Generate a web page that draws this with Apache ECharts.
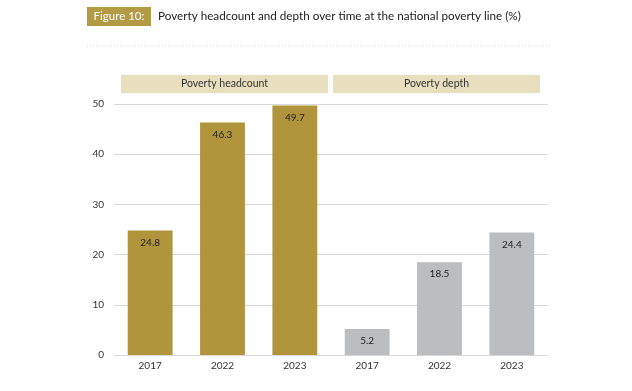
<!DOCTYPE html>
<html>
<head>
<meta charset="utf-8">
<script src="https://cdn.jsdelivr.net/npm/echarts@6/dist/echarts.min.js"></script>
<style>html,body{margin:0;padding:0;background:#fff}#c{width:632px;height:391px}</style>
</head>
<body>
<div id="c"></div>
<script>
var categories = ['2017', '2022', '2023', '2017 ', '2022 ', '2023 '];
var headcount = [24.8, 46.3, 49.7];
var depth = [5.2, 18.5, 24.4];
var groupLabels = ['Poverty headcount', 'Poverty depth'];
var yTicks = [0, 10, 20, 30, 40, 50];
var titleTag = 'Figure 10:';
var titleText = 'Poverty headcount and depth over time at the national poverty line (%)';

var gold = '#b0953d', grey = '#bcbdbf';
var values = headcount.concat(depth);
var data = values.map(function (v, i) {
  return { value: v, itemStyle: { color: i < headcount.length ? gold : grey } };
});
var FONT = 'Lato, "Open Sans", sans-serif';
var chart = echarts.init(document.getElementById('c'));
chart.setOption({
  animation: false,
  grid: { left: 114, right: 84, top: 104, bottom: 36 },
  xAxis: {
    type: 'category', data: categories,
    axisLine: { show: false }, axisTick: { show: false },
    axisLabel: { color: '#333', fontSize: 10, fontFamily: FONT, margin: 6,
      formatter: function (v) { return v.trim(); } }
  },
  yAxis: {
    type: 'value', min: yTicks[0], max: yTicks[yTicks.length - 1], interval: 10,
    axisLine: { show: false }, axisTick: { show: false },
    axisLabel: { color: '#333', fontSize: 10, fontFamily: FONT, margin: 10 },
    splitLine: { lineStyle: { color: '#d8d8d8', width: 1 } }
  },
  series: [{
    type: 'bar', data: data, barWidth: '62%',
    label: { show: true, position: 'insideTop', distance: 7, color: '#222', fontSize: 10, fontFamily: FONT }
  }],
  graphic: [
    { type: 'rect', shape: { x: 87, y: 7, width: 64, height: 19 }, style: { fill: '#b39a45' } },
    { type: 'text', x: 119, y: 16.5, style: { text: titleTag, fill: '#fff', font: '11.5px ' + FONT, align: 'center', verticalAlign: 'middle' } },
    { type: 'text', x: 158, y: 16.5, style: { text: titleText, fill: '#222', font: '11.7px ' + FONT, verticalAlign: 'middle' } },
    { type: 'line', shape: { x1: 87, y1: 46, x2: 552, y2: 46 }, style: { stroke: '#dadada', lineWidth: 1, lineDash: [1, 2] } },
    { type: 'rect', shape: { x: 121, y: 75, width: 207, height: 18 }, style: { fill: '#e8dfbf' } },
    { type: 'text', x: 224.5, y: 84, style: { text: groupLabels[0], fill: '#333', font: '10.5px ' + FONT, align: 'center', verticalAlign: 'middle' } },
    { type: 'rect', shape: { x: 333, y: 75, width: 207, height: 18 }, style: { fill: '#e8dfbf' } },
    { type: 'text', x: 436.5, y: 84, style: { text: groupLabels[1], fill: '#333', font: '10.5px ' + FONT, align: 'center', verticalAlign: 'middle' } }
  ]
});
</script>
</body>
</html>
